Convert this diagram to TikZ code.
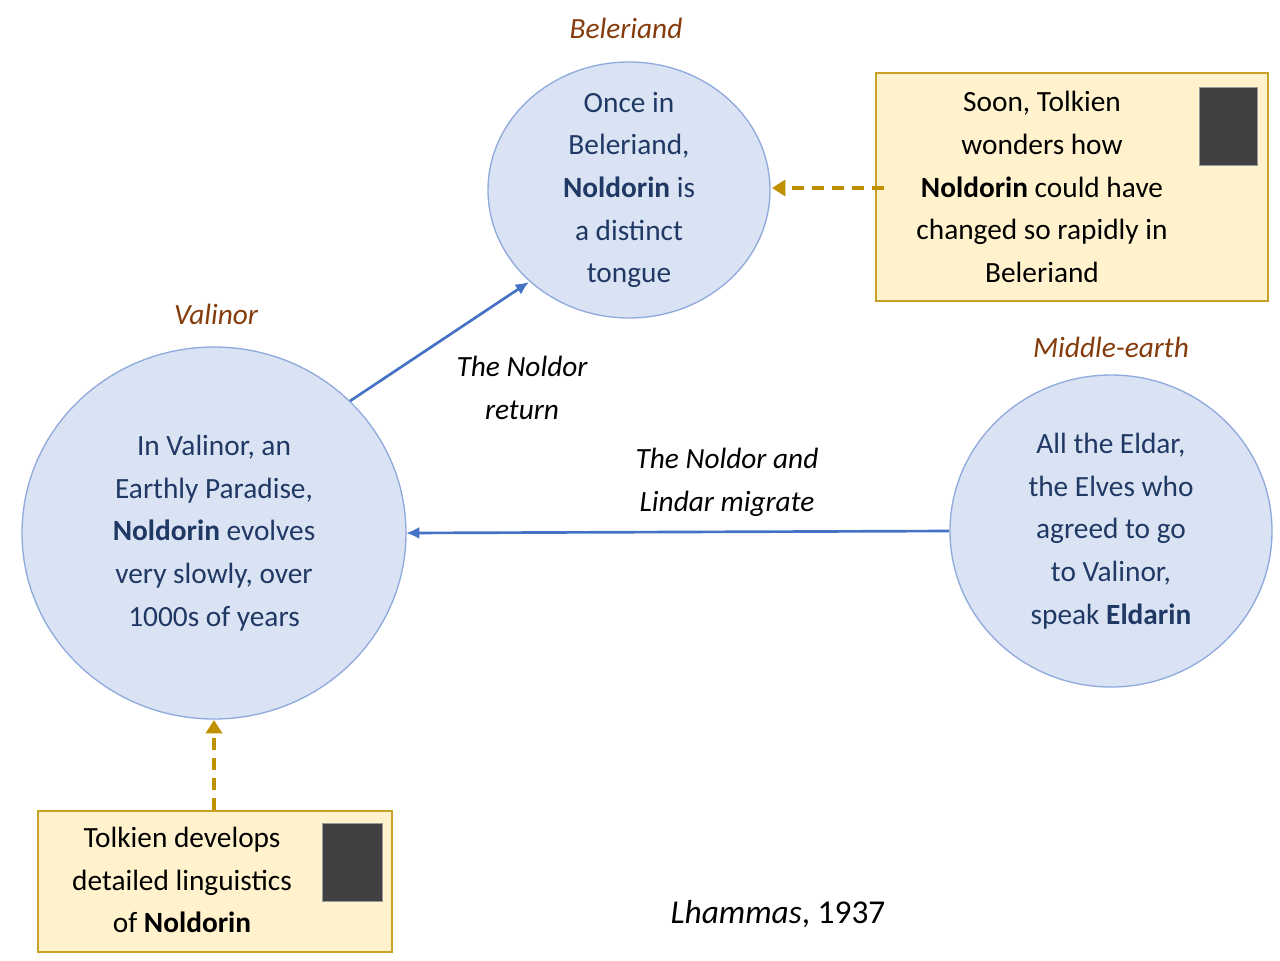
\documentclass[tikz,border=0pt]{standalone}
\usepackage{fontspec}
\setmainfont{Carlito}
\usetikzlibrary{arrows.meta}
\definecolor{cfill}{HTML}{DAE3F3}
\definecolor{cdraw}{HTML}{8FAADC}
\definecolor{ctext}{HTML}{203864}
\definecolor{place}{HTML}{843C0C}
\definecolor{bfill}{HTML}{FFF2CC}
\definecolor{bdraw}{HTML}{C9A227}
\definecolor{gold}{HTML}{BF9000}
\definecolor{arr}{HTML}{4472C4}
\begin{document}
\begin{tikzpicture}[x=0.75pt,y=-0.75pt,
 txt/.style={font=\fontsize{22}{32}\selectfont,align=center},
 circ/.style={ellipse,fill=cfill,draw=cdraw,line width=1pt},
 ctx/.style={txt,text=ctext},
 lbl/.style={font=\fontsize{22}{32}\selectfont\itshape,text=place},
 elbl/.style={txt,font=\fontsize{22}{32}\selectfont\itshape},
 box/.style={fill=bfill,draw=bdraw,line width=1pt},
 photo/.style={fill=black!75,draw=black!40},
 flow/.style={draw=arr,line width=2pt,-{Latex[length=10pt,width=9pt]}},
 note/.style={draw=gold,line width=2.5pt,dashed,dash pattern=on 9pt off 6pt,-{Triangle[length=10pt,width=12pt]}}]
\useasboundingbox (0,0) rectangle (1280,960);
\fill[cfill,draw=cdraw,line width=1pt] (629,190) ellipse [x radius=141,y radius=128];
\fill[cfill,draw=cdraw,line width=1pt] (214,533) ellipse [x radius=192,y radius=186];
\fill[cfill,draw=cdraw,line width=1pt] (1111,531) ellipse [x radius=161,y radius=156];
\node[ctx] (bel) at (629,190) {Once in\\Beleriand,\\\textbf{Noldorin} is\\a distinct\\tongue};
\node[ctx] (val) at (214,533) {In Valinor, an\\Earthly Paradise,\\\textbf{Noldorin} evolves\\very slowly, over\\1000s of years};
\node[ctx] (mid) at (1111,531) {All the Eldar,\\the Elves who\\agreed to go\\to Valinor,\\speak \textbf{Eldarin}};
\node[lbl] (lb) at (626,28) {Beleriand};
\node[lbl] (lv) at (216,314) {Valinor};
\node[lbl] (lm) at (1111,347) {Middle-earth};
\coordinate (vs) at (350,401); \coordinate (be) at (529,282);
\draw[flow] (vs) -- (be);
\coordinate (ms) at (949,531); \coordinate (ve) at (406,533);
\draw[flow] (ms) -- (ve);
\node[elbl] (l1) at (522,388) {The Noldor\\return};
\node[elbl] (l2) at (727,482) {The Noldor and\\Lindar migrate};
\draw[box] (876,73) rectangle (1268,301);
\node[txt] (n1) at (1042,187) {Soon, Tolkien\\wonders how\\\textbf{Noldorin} could have\\changed so rapidly in\\Beleriand};
\fill[photo] (1199,87) rectangle (1257,165);
\draw[box] (38,811) rectangle (392,952);
\node[txt] (n2) at (182,880) {Tolkien develops\\detailed linguistics\\of \textbf{Noldorin}};
\fill[photo] (322,823) rectangle (382,901);
\coordinate (a1) at (884,188); \coordinate (a2) at (772,188);
\draw[note] (a1) -- (a2);
\coordinate (b1) at (214,810); \coordinate (b2) at (214,720);
\draw[note] (b1) -- (b2);
\node[txt,font=\fontsize{25}{32}\selectfont] (cap) at (778,914) {\textit{Lhammas}, 1937};
\end{tikzpicture}
\end{document}
